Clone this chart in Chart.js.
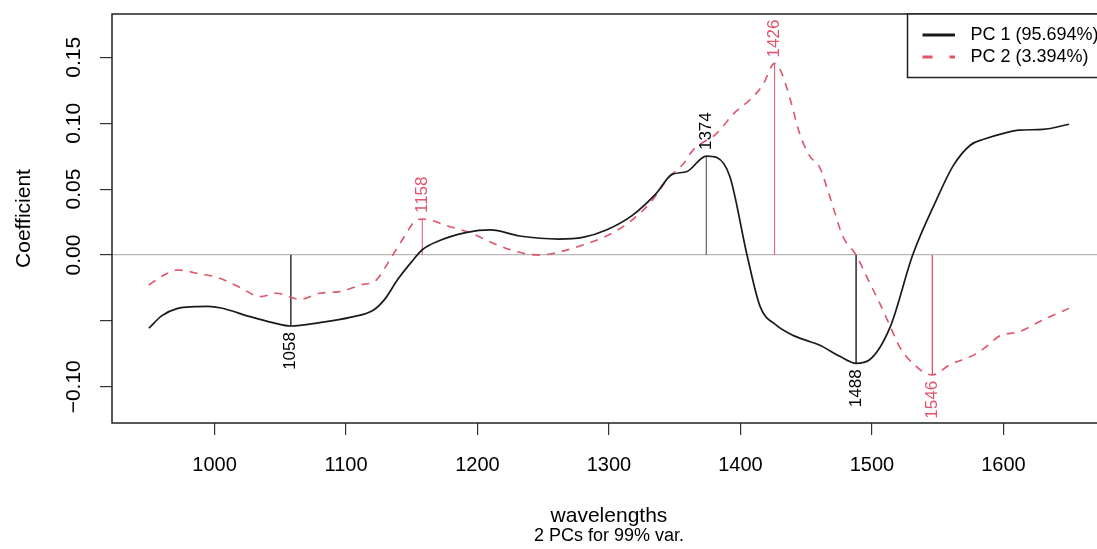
<!DOCTYPE html>
<html>
<head>
<meta charset="utf-8">
<script src="https://cdn.jsdelivr.net/npm/chart.js@4.4.1/dist/chart.umd.min.js"></script>
<style>
  html, body { margin: 0; padding: 0; background: #fff; overflow: hidden; }
  canvas { display: block; }
</style>
</head>
<body>
<canvas id="chart" width="1097" height="549"></canvas>
<script>
// loadings
const pc1Wl = [950, 960, 972, 985, 995, 1005, 1027, 1045, 1058, 1080, 1103, 1121, 1130, 1139, 1150, 1158, 1169, 1192, 1210, 1232, 1262, 1280, 1298, 1318, 1336, 1348, 1359, 1374, 1382, 1392, 1405, 1415, 1427, 1440, 1453, 1460, 1476, 1488, 1498, 1514, 1531, 1549, 1562, 1575, 1585, 1600, 1612, 1630, 1650];
const pc1Val = [-0.0556, -0.046, -0.0405, -0.0392, -0.039, -0.0402, -0.0468, -0.0515, -0.0539, -0.0513, -0.0473, -0.0417, -0.0329, -0.019, -0.005, 0.004, 0.0101, 0.0172, 0.019, 0.0144, 0.0121, 0.0134, 0.019, 0.0303, 0.0468, 0.0612, 0.0632, 0.0751, 0.074, 0.0594, 0.0, -0.0392, -0.0531, -0.061, -0.0658, -0.0683, -0.0771, -0.0822, -0.0797, -0.0544, 0.0, 0.0417, 0.068, 0.0835, 0.0878, 0.0923, 0.0948, 0.0953, 0.0992];

const pc2Wl = [950, 962, 972, 989, 1002, 1019, 1035, 1047, 1065, 1080, 1095, 1111, 1123, 1134, 1145, 1152, 1158, 1179, 1194, 1215, 1235, 1248, 1263, 1280, 1298, 1316, 1331, 1346, 1357, 1364, 1382, 1395, 1407, 1417, 1426, 1431, 1438, 1445, 1453, 1460, 1468, 1478, 1488, 1496, 1506, 1514, 1521, 1531, 1546, 1559, 1580, 1587, 1597, 1612, 1630, 1650];
const pc2Val = [-0.0228, -0.015, -0.0114, -0.0144, -0.017, -0.0245, -0.0316, -0.029, -0.0336, -0.029, -0.0278, -0.0228, -0.019, -0.0025, 0.015, 0.0253, 0.0273, 0.0215, 0.017, 0.0076, 0.0013, 0.0, 0.0025, 0.0076, 0.0144, 0.0253, 0.0392, 0.0594, 0.0696, 0.0797, 0.0923, 0.1075, 0.1176, 0.129, 0.1454, 0.139, 0.1176, 0.0923, 0.0746, 0.067, 0.0442, 0.0139, 0.0, -0.0164, -0.0367, -0.0544, -0.0696, -0.0822, -0.091, -0.0835, -0.0746, -0.0696, -0.0615, -0.0582, -0.0493, -0.0405];

const pc1Peaks = [1058, 1374, 1488];
const pc2Peaks = [1158, 1426, 1546];

const seriesLabels = ['PC 1 (95.694%)', 'PC 2 (3.394%)'];
const xTicks = [1000, 1100, 1200, 1300, 1400, 1500, 1600];
const yTicks = [-0.10, -0.05, 0, 0.05, 0.10, 0.15];
const yTickLabels = ['\u22120.10', '', '0.00', '0.05', '0.10', '0.15'];

const FONT = '"Liberation Sans", Arial, Helvetica, sans-serif';
const BLACK = '#1a1a1a';
const PINK = '#df536b';

const toPoints = (wl, val) => wl.map((w, i) => ({ x: w, y: val[i] }));

// vertical drop lines at the extremes
const peakSets = [];
pc1Peaks.forEach(w => {
  const v = pc1Val[pc1Wl.indexOf(w)];
  peakSets.push({ data: [{ x: w, y: 0 }, { x: w, y: v }], borderColor: '#444', borderWidth: 1, pointRadius: 0, peak: String(w), labelColor: '#000' });
});
pc2Peaks.forEach(w => {
  const v = pc2Val[pc2Wl.indexOf(w)];
  peakSets.push({ data: [{ x: w, y: 0 }, { x: w, y: v }], borderColor: PINK, borderWidth: 1, pointRadius: 0, peak: String(w), labelColor: PINK });
});

const rPlot = {
  id: 'rPlot',
  afterDatasetsDraw(chart) {
    const { ctx, chartArea: a, scales: { x, y } } = chart;
    ctx.save();

    // peak labels, rotated like R's text(srt = 90)
    ctx.font = '17px ' + FONT;
    chart.data.datasets.forEach(ds => {
      if (!ds.peak) return;
      const px = x.getPixelForValue(ds.data[1].x);
      const py = y.getPixelForValue(ds.data[1].y);
      ctx.save();
      ctx.translate(px, py);
      ctx.rotate(-Math.PI / 2);
      ctx.fillStyle = ds.labelColor;
      ctx.textBaseline = 'middle';
      if (ds.data[1].y > 0) {
        ctx.textAlign = 'left';
        ctx.fillText(ds.peak, 6, 0);
      } else {
        ctx.textAlign = 'right';
        ctx.fillText(ds.peak, -6, 0);
      }
      ctx.restore();
    });

    // y tick labels (parallel to the axis)
    ctx.font = '21px ' + FONT;
    ctx.fillStyle = '#000';
    yTicks.forEach((v, i) => {
      if (!yTickLabels[i]) return;
      ctx.save();
      ctx.translate(74, y.getPixelForValue(v));
      ctx.rotate(-Math.PI / 2);
      ctx.textAlign = 'center';
      ctx.textBaseline = 'middle';
      ctx.fillText(yTickLabels[i], 0, 0);
      ctx.restore();
    });

    // box round the plot region
    ctx.strokeStyle = '#222';
    ctx.lineWidth = 1.5;
    ctx.strokeRect(a.left, a.top, a.right - a.left + 20, a.bottom - a.top);

    // legend, top right
    const lx = 907.5;
    ctx.fillStyle = '#fff';
    ctx.fillRect(lx, a.top, 300, 63.5);
    ctx.strokeRect(lx, a.top, 300, 63.5);
    const rows = [a.top + 21, a.top + 43];
    chart.data.datasets.slice(0, 2).forEach((ds, i) => {
      ctx.beginPath();
      ctx.lineWidth = 3;
      ctx.strokeStyle = ds.borderColor;
      ctx.setLineDash(i === 0 ? [] : [10, 17]);
      ctx.moveTo(922.5, rows[i]);
      ctx.lineTo(955, rows[i]);
      ctx.stroke();
      ctx.setLineDash([]);
      ctx.font = '18px ' + FONT;
      ctx.fillStyle = '#000';
      ctx.textAlign = 'left';
      ctx.textBaseline = 'middle';
      ctx.fillText(ds.label, 970.5, rows[i]);
    });

    // axis title and sub-title, centred on the full plot region (922..1678)
    const cx = x.getPixelForValue(1300);
    ctx.fillStyle = '#000';
    ctx.textAlign = 'center';
    ctx.textBaseline = 'middle';
    ctx.font = '21px ' + FONT;
    ctx.fillText('wavelengths', cx, 516);
    ctx.font = '18px ' + FONT;
    ctx.fillText('2 PCs for 99% var.', cx, 536);

    ctx.restore();
  }
};

new Chart(document.getElementById('chart'), {
  type: 'line',
  data: {
    datasets: [
      {
        label: seriesLabels[0],
        data: toPoints(pc1Wl, pc1Val),
        borderColor: BLACK,
        borderWidth: 1.7,
        pointRadius: 0,
        cubicInterpolationMode: 'monotone'
      },
      {
        label: seriesLabels[1],
        data: toPoints(pc2Wl, pc2Val),
        borderColor: PINK,
        borderWidth: 1.6,
        borderDash: [8, 7],
        pointRadius: 0,
        cubicInterpolationMode: 'monotone'
      },
      ...peakSets
    ]
  },
  options: {
    responsive: false,
    animation: false,
    layout: { padding: { top: 14, right: 0, bottom: 0, left: 0 } },
    plugins: {
      legend: { display: false },
      tooltip: { enabled: false }
    },
    scales: {
      x: {
        type: 'linear',
        min: 922,
        max: 1671.2,
        afterBuildTicks: s => { s.ticks = xTicks.map(v => ({ value: v })); },
        afterFit: s => { s.height = 126; },
        border: { display: false },
        grid: { drawOnChartArea: false, color: '#333', tickLength: 12, lineWidth: 1.2 },
        ticks: {
          font: { size: 20, family: FONT },
          color: '#000',
          padding: 18,
          autoSkip: false,
          maxRotation: 0,
          callback: v => String(v)
        },
        title: { display: false }
      },
      y: {
        type: 'linear',
        min: -0.1275,
        max: 0.1829,
        afterBuildTicks: s => { s.ticks = yTicks.map(v => ({ value: v })); },
        afterFit: s => { s.width = 112; },
        border: { display: false },
        grid: {
          color: c => (c.tick && c.tick.value === 0 ? '#b8b8b8' : 'rgba(0,0,0,0)'),
          tickColor: '#333',
          tickLength: 12,
          lineWidth: 1.2
        },
        ticks: { display: false },
        title: {
          display: true,
          text: 'Coefficient',
          font: { size: 21, family: FONT },
          color: '#000',
          padding: { top: 12, bottom: 0 }
        }
      }
    }
  },
  plugins: [rPlot]
});
</script>
</body>
</html>
